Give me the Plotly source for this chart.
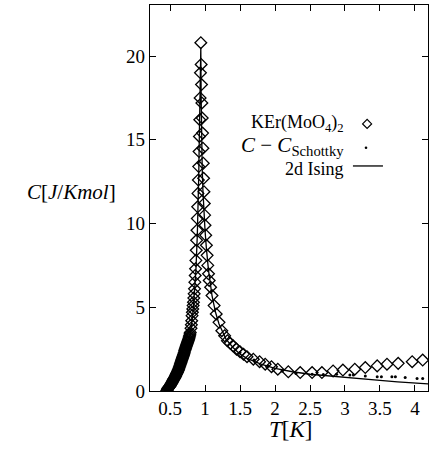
import plotly.graph_objects as go

# KEr(MoO4)2 data (diamonds)
T_data = [0.455, 0.46, 0.465, 0.47, 0.475, 0.48, 0.485, 0.49, 0.495, 0.50, 0.505, 0.51, 0.515,
          0.52, 0.525, 0.53, 0.535, 0.54, 0.545, 0.55, 0.555, 0.56, 0.565, 0.57, 0.575, 0.58,
          0.585, 0.59, 0.595, 0.60, 0.605, 0.61, 0.615, 0.62, 0.625, 0.63, 0.635, 0.64, 0.645,
          0.65, 0.655, 0.66, 0.665, 0.67, 0.675, 0.68, 0.685, 0.69, 0.695, 0.70, 0.705, 0.71,
          0.715, 0.72, 0.725, 0.73, 0.735, 0.74, 0.745, 0.75, 0.755, 0.76, 0.765, 0.77, 0.775,
          0.78, 0.785, 0.79, 0.80, 0.805, 0.81, 0.815, 0.82, 0.825, 0.83,
          0.835, 0.84, 0.845, 0.85, 0.855, 0.86, 0.865, 0.87, 0.875, 0.88, 0.885, 0.89, 0.895,
          0.90, 0.905, 0.91, 0.915, 0.92, 0.925, 0.93, 0.935, 0.94,
          0.945, 0.95, 0.955, 0.96, 0.965, 0.97, 0.975, 0.98, 0.985, 0.99, 0.995, 1.00, 1.01,
          1.02, 1.03, 1.04, 1.05, 1.06, 1.08, 1.10, 1.13, 1.16, 1.20, 1.24, 1.28, 1.32, 1.36,
          1.40, 1.45, 1.50, 1.55, 1.60, 1.69, 1.78, 1.86, 1.95, 2.04, 2.19, 2.36, 2.53, 2.67,
          2.83, 2.97, 3.14, 3.29, 3.46, 3.60, 3.76, 3.96, 4.11]
C_data = [0.03, 0.05, 0.1, 0.15, 0.18, 0.2, 0.22, 0.25, 0.28, 0.3, 0.34, 0.38, 0.42,
          0.45, 0.48, 0.52, 0.56, 0.6, 0.64, 0.68, 0.72, 0.75, 0.78, 0.82, 0.86, 0.9,
          0.95, 1.0, 1.04, 1.08, 1.12, 1.17, 1.22, 1.27, 1.32, 1.38, 1.44, 1.5, 1.56,
          1.62, 1.68, 1.75, 1.82, 1.88, 1.94, 2.0, 2.06, 2.12, 2.18, 2.25, 2.32, 2.4,
          2.46, 2.52, 2.58, 2.65, 2.72, 2.78, 2.84, 2.9, 2.96, 3.02, 3.08, 3.15, 3.22,
          3.3, 3.4, 3.5, 3.75, 3.95, 4.2, 4.5, 4.7, 4.9, 5.1,
          5.3, 5.55, 5.8, 6.1, 6.5, 6.9, 7.3, 7.8, 8.4, 9.0, 9.6, 10.3, 11.0,
          11.8, 12.6, 13.4, 14.3, 15.2, 16.2, 17.5, 19.0, 20.8,
          19.5, 18.3, 17.2, 16.3, 15.4, 14.5, 13.6, 12.7, 11.9, 11.2, 10.5, 9.9, 9.3,
          8.7, 8.1, 7.5, 7.0, 6.6, 6.2, 5.7, 5.1, 4.6, 4.1, 3.6, 3.3, 3.0, 2.85,
          2.7, 2.5, 2.35, 2.2, 2.05, 1.9, 1.75, 1.6, 1.45, 1.3, 1.15, 1.1, 1.1, 1.1,
          1.2, 1.25, 1.3, 1.4, 1.5, 1.6, 1.65, 1.75, 1.85]

# C - C_Schottky (dots)
T_sub = [1.50, 1.70, 1.90, 2.10, 2.30, 2.53, 2.69, 2.88, 3.07, 3.12, 3.29, 3.46, 3.52,
         3.67, 3.72, 3.86, 4.03, 4.11]
C_sub = [2.3, 1.85, 1.5, 1.2, 1.05, 1.0, 0.98, 1.0, 0.95, 0.95, 0.9, 0.85, 0.85,
         0.85, 0.85, 0.8, 0.75, 0.75]

# 2d Ising
T_ising = [0.45, 0.50, 0.55, 0.60, 0.65, 0.70, 0.75, 0.78, 0.80, 0.83, 0.85, 0.87, 0.89,
           0.90, 0.91, 0.92, 0.93, 0.94, 0.945, 0.95, 0.96, 0.97, 0.98, 1.00, 1.02, 1.05,
           1.10, 1.15, 1.20, 1.30, 1.40, 1.50, 1.60, 1.80, 2.00, 2.25, 2.50, 2.75, 3.00,
           3.25, 3.50, 3.75, 4.00, 4.20]
C_ising = [0.02, 0.1, 0.3, 0.6, 1.1, 1.7, 2.5, 3.1, 3.7, 4.8, 5.8, 7.2, 9.3,
           10.8, 12.8, 15.5, 18.5, 20.5, 17.5, 15.5, 13.3, 12.0, 11.0, 9.6, 8.5, 7.2,
           5.7, 4.7, 4.0, 3.1, 2.6, 2.2, 1.95, 1.6, 1.35, 1.15, 1.0, 0.9, 0.8,
           0.72, 0.63, 0.55, 0.48, 0.42]

x_ticks = [0.5, 1, 1.5, 2, 2.5, 3, 3.5, 4]
x_ticktext = ["0.5", "1", "1.5", "2", "2.5", "3", "3.5", "4"]
y_ticks = [0, 5, 10, 15, 20]
y_ticktext = ["0", "5", "10", "15", "20"]

FONT = "Liberation Serif"

fig = go.Figure()
fig.add_trace(go.Scatter(x=T_ising, y=C_ising, mode="lines",
                         line=dict(color="black", width=1.3), showlegend=False))
fig.add_trace(go.Scatter(x=T_sub, y=C_sub, mode="markers",
                         marker=dict(symbol="circle", size=3, color="black"), showlegend=False))
fig.add_trace(go.Scatter(x=T_data, y=C_data, mode="markers",
                         marker=dict(symbol="diamond-open", size=9,
                                     line=dict(color="black", width=1.3), color="black"),
                         showlegend=False))

axis_common = dict(showline=True, linecolor="black", linewidth=1.2, mirror="ticks",
                   ticks="inside", ticklen=6, tickwidth=1.2, tickcolor="black",
                   showgrid=False, zeroline=False,
                   tickfont=dict(family=FONT, size=19, color="black"))

fig.update_xaxes(range=[0.214, 4.186], tickvals=x_ticks, ticktext=x_ticktext, **axis_common)
fig.update_yaxes(range=[0, 23.05], tickvals=y_ticks, ticktext=y_ticktext, **axis_common)

annotations = [
    dict(text="KEr(MoO<sub>4</sub>)<sub>2</sub>", x=0.705, y=0.692, xanchor="right", yanchor="middle"),
    dict(text="<i>C</i> − <i>C</i><sub>Schottky</sub>", x=0.705, y=0.634, xanchor="right", yanchor="middle",
         size=21),
    dict(text="2d Ising", x=0.705, y=0.576, xanchor="right", yanchor="middle"),
    dict(text="<i>C</i>[<i>J</i>/<i>Kmol</i>]", x=-0.284, y=0.516, xanchor="center", yanchor="middle",
         size=21),
    dict(text="<i>T</i>[<i>K</i>]", x=0.504, y=-0.101, xanchor="center", yanchor="middle", size=23),
]
fig.update_layout(annotations=[
    dict(text=a["text"], x=a["x"], y=a["y"], xref="paper", yref="paper",
         xanchor=a["xanchor"], yanchor=a["yanchor"], showarrow=False,
         font=dict(family=FONT, size=a.get("size", 18), color="black"))
    for a in annotations
])

fig.update_layout(shapes=[
    dict(type="path", xref="paper", yref="paper", xsizemode="pixel", ysizemode="pixel",
         xanchor=0.781, yanchor=0.692, path="M -4.5,0 L 0,4.5 L 4.5,0 L 0,-4.5 Z",
         line=dict(color="black", width=1.2)),
    dict(type="circle", xref="paper", yref="paper", xsizemode="pixel", ysizemode="pixel",
         xanchor=0.777, yanchor=0.630, x0=-1.3, x1=1.3, y0=-1.3, y1=1.3,
         fillcolor="black", line=dict(color="black", width=0)),
    dict(type="line", xref="paper", yref="paper", x0=0.730, x1=0.838, y0=0.583, y1=0.583,
         line=dict(color="black", width=1.3)),
])

fig.update_layout(width=429, height=453, margin=dict(l=150, r=1, t=5, b=62),
                  plot_bgcolor="white", paper_bgcolor="white")

fig.write_html("out.html")
